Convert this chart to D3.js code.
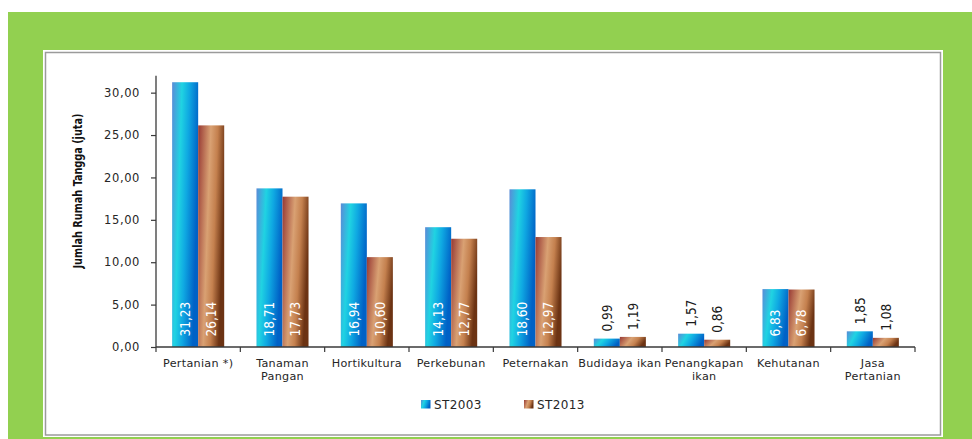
<!DOCTYPE html>
<html>
<head>
<meta charset="utf-8">
<script src="https://cdn.jsdelivr.net/npm/d3@7"></script>
<style>
  html, body { margin: 0; padding: 0; background: #ffffff; }
  svg { display: block; }
</style>
</head>
<body>
<script>
// Jumlah rumah tangga usaha pertanian menurut subsektor, ST2003 vs ST2013 (juta)
const categories = [
  "Pertanian *)", "Tanaman\nPangan", "Hortikultura", "Perkebunan", "Peternakan",
  "Budidaya ikan", "Penangkapan\nikan", "Kehutanan", "Jasa\nPertanian"
];
const seriesNames = ["ST2003", "ST2013"];
const st2003 = [31.23, 18.71, 16.94, 14.13, 18.60, 0.99, 1.57, 6.83, 1.85];
const st2013 = [26.14, 17.73, 10.60, 12.77, 12.97, 1.19, 0.86, 6.78, 1.08];
const yTicks = [0, 5, 10, 15, 20, 25, 30];
const yMax = 32;
const yTitle = "Jumlah Rumah Tangga (juta)";

const W = 972, H = 439;
const plot = { left: 156, right: 915, top: 75.7, bottom: 347 };

const idLocale = d3.formatLocale({ decimal: ",", thousands: ".", grouping: [3], currency: ["Rp", ""] });
const fmt = idLocale.format(".2f");

const svg = d3.select("body").append("svg")
  .attr("width", W).attr("height", H)
  .attr("viewBox", `0 0 ${W} ${H}`);

const defs = svg.append("defs");

function addGradient(id, stops) {
  const g = defs.append("linearGradient")
    .attr("id", id)
    .attr("x1", 0).attr("y1", 0).attr("x2", 1).attr("y2", 0.3);
  stops.forEach(([o, c]) => g.append("stop").attr("offset", o).attr("stop-color", c));
}
addGradient("grad-st2003", [[0, "#5a8bd7"], [0.35, "#20d3e2"], [0.62, "#0fa8e2"], [1, "#0061c6"]]);
addGradient("grad-st2013", [[0, "#973934"], [0.45, "#d9a173"], [0.7, "#c4804e"], [1, "#6c3313"]]);
const fills = ["url(#grad-st2003)", "url(#grad-st2013)"];

// Green frame and white chart panel
svg.append("rect").attr("x", 8).attr("y", 12).attr("width", W - 8).attr("height", H - 12)
  .attr("fill", "#92d050");
svg.append("rect").attr("x", 43).attr("y", 50).attr("width", 900).attr("height", 387)
  .attr("fill", "#ffffff");
svg.append("rect").attr("x", 45.5).attr("y", 52.5).attr("width", 895).attr("height", 382.5)
  .attr("fill", "#ffffff").attr("stroke", "#9b9b9b").attr("stroke-width", 1.5);

// Scales
const x = d3.scaleBand().domain(d3.range(categories.length))
  .range([plot.left, plot.right]).paddingInner(0).paddingOuter(0);
const xs = d3.scaleBand().domain(seriesNames)
  .range([0, x.bandwidth()]).paddingInner(0).paddingOuter(0.62);
const y = d3.scaleLinear().domain([0, yMax]).range([plot.bottom, plot.top]);

const data = categories.map((c, i) => ({ i, values: [st2003[i], st2013[i]] }));

// Bars
const groups = svg.append("g").selectAll("g").data(data).join("g")
  .attr("transform", d => `translate(${x(d.i)},0)`);

groups.selectAll("rect").data(d => d.values.map((v, k) => ({ v, k })))
  .join("rect")
  .attr("x", d => xs(seriesNames[d.k]))
  .attr("y", d => y(d.v))
  .attr("width", xs.bandwidth())
  .attr("height", d => y(0) - y(d.v))
  .attr("fill", d => fills[d.k]);

// Data labels: inside the base of tall bars, above short ones
const labelFont = "'Liberation Sans Narrow', 'DejaVu Sans Condensed', 'Arial Narrow', sans-serif";
groups.selectAll("text.val").data(d => d.values.map((v, k) => ({ v, k })))
  .join("text")
  .attr("class", "val")
  .attr("transform", d => {
    const cx = xs(seriesNames[d.k]) + xs.bandwidth() / 2;
    const inside = d.v >= 5;
    const ty = inside ? y(0) - 10.5 : y(d.v) - 7;
    return `translate(${cx},${ty}) rotate(-90)`;
  })
  .attr("dy", "0.36em")
  .attr("text-anchor", "start")
  .attr("font-family", labelFont)
  .attr("font-size", 13.5)
  .attr("fill", d => d.v >= 5 ? "#ffffff" : "#1a1a1a")
  .text(d => fmt(d.v));

// Y axis
const yAxis = d3.axisLeft(y).tickValues(yTicks).tickFormat(fmt).tickSize(5).tickPadding(11);
const yg = svg.append("g").attr("transform", `translate(${plot.left},0)`).call(yAxis);
yg.select(".domain").attr("stroke", "#3a3a3a").attr("stroke-width", 1.3)
  .attr("d", `M0,${plot.top}V${plot.bottom}`);
yg.selectAll(".tick line").attr("stroke", "#3a3a3a").attr("stroke-width", 1.2);
yg.selectAll(".tick text")
  .attr("font-family", "'DejaVu Sans', Verdana, sans-serif")
  .attr("font-size", 11.5)
  .attr("letter-spacing", 0.6)
  .attr("fill", "#262626");

// X axis: ticks at category boundaries
const bounds = d3.range(categories.length + 1).map(i => plot.left + i * x.step());
const xg = svg.append("g");
xg.append("line").attr("x1", plot.left).attr("x2", plot.right)
  .attr("y1", plot.bottom).attr("y2", plot.bottom)
  .attr("stroke", "#3a3a3a").attr("stroke-width", 1.3);
xg.selectAll("line.tk").data(bounds).join("line").attr("class", "tk")
  .attr("x1", d => d).attr("x2", d => d)
  .attr("y1", plot.bottom).attr("y2", plot.bottom + 5)
  .attr("stroke", "#3a3a3a").attr("stroke-width", 1.2);

const catText = xg.selectAll("text.cat").data(categories).join("text").attr("class", "cat")
  .attr("x", (d, i) => x(i) + x.bandwidth() / 2)
  .attr("y", plot.bottom + 19.5)
  .attr("text-anchor", "middle")
  .attr("font-family", "'DejaVu Sans', Verdana, sans-serif")
  .attr("font-size", 11.2)
  .attr("letter-spacing", 0.3)
  .attr("fill", "#262626");
catText.each(function (d) {
  const t = d3.select(this);
  d.split("\n").forEach((line, j) => {
    t.append("tspan").attr("x", t.attr("x")).attr("dy", j === 0 ? 0 : 13.5).text(line);
  });
});

// Y axis title
svg.append("text")
  .attr("transform", `translate(82,191) rotate(-90)`)
  .attr("text-anchor", "middle")
  .attr("font-family", "'Liberation Sans Narrow', 'DejaVu Sans Condensed', sans-serif")
  .attr("font-weight", "bold")
  .attr("font-size", 12.5)
  .attr("textLength", 155)
  .attr("lengthAdjust", "spacingAndGlyphs")
  .attr("fill", "#111")
  .text(yTitle);

// Legend
const legendX = [421, 524];
const lg = svg.append("g").selectAll("g").data(seriesNames).join("g")
  .attr("transform", (d, k) => `translate(${legendX[k]},400)`);
lg.append("rect").attr("width", 9.5).attr("height", 8.5).attr("fill", (d, k) => fills[k]);
lg.append("text").attr("x", 13).attr("y", 8.5)
  .attr("font-family", "'DejaVu Sans', Verdana, sans-serif")
  .attr("font-size", 12)
  .attr("letter-spacing", 0.4)
  .attr("fill", "#262626")
  .text(d => d);
</script>
</body>
</html>
